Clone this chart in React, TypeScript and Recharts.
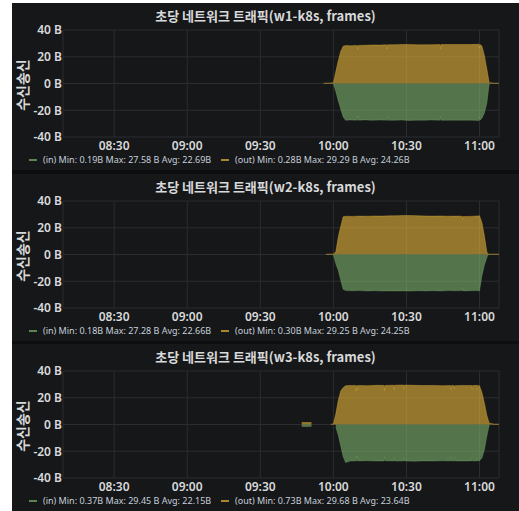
import React from 'react';
import { ComposedChart, Area, XAxis, YAxis, CartesianGrid } from 'recharts';

// axis setup
const yTicks = [-40, -20, 0, 20, 40];
const xTickLabels = ['08:30', '09:00', '09:30', '10:00', '10:30', '11:00'];
const xStart = '08:09';
const xEnd = '11:08';

// w1-k8s
const w1Time = ['09:56', '09:58', '10:00', '10:01', '10:02', '10:03', '10:04', '10:05', '10:07', '10:09:50', '10:10', '10:10:10', '10:13', '10:16', '10:19', '10:21:50', '10:22', '10:22:10', '10:25', '10:28', '10:31', '10:34', '10:37', '10:40', '10:43:50', '10:44', '10:44:10', '10:47', '10:50', '10:53', '10:56', '10:59:50', '11:00', '11:00:10', '11:01', '11:02', '11:03', '11:04', '11:06', '11:08'];
const w1Out = [0.3, 0.3, 0.5, 9, 17, 24, 27.8, 28.4, 28.2, 28.4, 25.5, 28.4, 28.6, 28.8, 28.7, 28.9, 25.8, 28.9, 29.0, 29.1, 29.2, 29.0, 28.9, 29.0, 29.1, 26.0, 29.1, 29.2, 29.1, 29.2, 29.1, 29.3, 26.5, 29.2, 28, 21, 11, 0.6, 0.3, 0.3];
const w1In = [null, null, -0.3, -6, -13, -19, -25, -27.5, -27.3, -27.4, -24.5, -27.4, -27.2, -27.5, -27.3, -27.4, -24.8, -27.4, -27.5, -27.3, -27.6, -27.4, -27.5, -27.3, -27.4, -24.6, -27.4, -27.5, -27.4, -27.5, -27.4, -27.6, -25, -27.5, -26, -22, -15, -0.3, null, null];

// w2-k8s
const w2Time = ['09:57', '09:59', '10:00', '10:01', '10:02', '10:03', '10:04', '10:05', '10:08', '10:11', '10:14', '10:17', '10:20', '10:23', '10:26', '10:29', '10:32', '10:35', '10:38', '10:41', '10:44', '10:47', '10:50', '10:52:50', '10:53', '10:53:10', '10:56', '10:59', '11:00', '11:01', '11:02', '11:03', '11:03:30', '11:05', '11:08'];
const w2Out = [0.3, 0.3, 0.4, 2, 13, 21, 28.2, 28.6, 28.5, 28.7, 28.6, 28.8, 28.7, 28.9, 29.0, 29.2, 29.1, 28.9, 28.8, 28.7, 28.8, 28.6, 28.7, 28.6, 26.2, 28.4, 28.5, 28.8, 29.0, 24, 14, 2, 0.4, 0.3, 0.3];
const w2In = [null, null, -0.3, -7, -12, -19, -26, -27, -27.1, -27.0, -27.2, -27.1, -27.3, -27.2, -27.3, -27.2, -27.3, -27.1, -27.2, -27.1, -27.2, -27.0, -27.1, -27.0, -25.0, -27.2, -27.1, -27.0, -27.2, -16, -8, -2.5, -0.3, null, null];

// w3-k8s
const w3Time = ['09:47', '09:51', '09:52', '09:59', '10:00', '10:01', '10:02', '10:03', '10:04', '10:05', '10:07', '10:09:10', '10:09:20', '10:09:30', '10:10', '10:10:10', '10:10:20', '10:14', '10:18', '10:20:50', '10:21', '10:21:10', '10:24:50', '10:25', '10:25:10', '10:28:50', '10:29', '10:29:10', '10:33', '10:37', '10:41', '10:45', '10:48:10', '10:48:20', '10:48:30', '10:49:30', '10:49:40', '10:49:50', '10:53', '10:56:50', '10:57', '10:57:10', '10:58:50', '10:59', '10:59:10', '11:00', '11:01', '11:02', '11:03', '11:04', '11:06', '11:08'];
const w3Out = [1.5, 1.5, null, 0.3, 0.4, 8, 18, 25, 27.5, 29, 29.2, 29.2, 25, 29.1, 29.2, 26, 29.2, 29.0, 29.3, 29.2, 25.5, 29.2, 29.4, 26, 29.4, 29.5, 26.5, 29.5, 29.3, 29.1, 29.2, 29.0, 29.1, 26, 29.1, 29.1, 26.5, 29.0, 29.2, 29.1, 26, 29.1, 29.3, 26, 29.2, 29.0, 24, 16, 7, 1, 0.3, 0.3];
const w3In = [-1.5, -1.5, null, null, null, -2, -8, -16, -24, -28.5, -27.3, -27.2, -23.5, -27.2, -27.3, -24, -27.2, -27.1, -27.3, -27.2, -24.2, -27.1, -27.3, -24.6, -27.3, -27.2, -25, -27.2, -27.4, -27.2, -27.3, -27.1, -27.2, -24.5, -27.2, -27.3, -24.8, -27.2, -27.3, -27.2, -24.5, -27.2, -27.3, -25, -27.2, -27.1, -25, -19, -9, -0.3, null, null];

const w1Legend = ['(in) Min: 0.19B Max: 27.58 B Avg: 22.69B', '(out) Min: 0.28B Max: 29.29 B Avg: 24.26B'];
const w2Legend = ['(in) Min: 0.18B Max: 27.28 B Avg: 22.66B', '(out) Min: 0.30B Max: 29.25 B Avg: 24.25B'];
const w3Legend = ['(in) Min: 0.37B Max: 29.45 B Avg: 22.15B', '(out) Min: 0.73B Max: 29.68 B Avg: 23.64B'];

const toMin = (t: string) => {
  const [h, m, s = '0'] = t.split(':');
  return +h * 60 + +m + +s / 60;
};
const fmt = (v: number) => {
  const h = Math.floor(v / 60);
  const m = Math.round(v % 60);
  return `${String(h).padStart(2, '0')}:${String(m).padStart(2, '0')}`;
};

const IN_COLOR = '#7EB26D';
const OUT_COLOR = '#EAB839';
const TEXT = '#d8d9da';
const FONT = '"Noto Sans", "Noto Sans CJK KR", sans-serif';

interface PanelProps {
  title: string;
  top: number;
  times: string[];
  outVals: (number | null)[];
  inVals: (number | null)[];
  legend: string[];
}

const Panel: React.FC<PanelProps> = ({ title, top, times, outVals, inVals, legend }) => {
  const data = times.map((t, i) => ({ t: toMin(t), out: outVals[i], in: inVals[i] }));
  return (
    <div style={{ position: 'absolute', left: 12, top, width: 507, height: 167, background: '#161719', fontFamily: FONT }}>
      <div style={{ position: 'absolute', top: 3, left: 0, width: 507, textAlign: 'center', color: TEXT, fontSize: 13, fontWeight: 700, fontFamily: '"Noto Sans CJK KR", sans-serif' }}>
        {title}
      </div>
      <div style={{ position: 'absolute', left: 10, top: 81, width: 0, height: 0 }}>
        <div style={{ transform: 'translate(-50%, -50%) rotate(-90deg)', color: TEXT, fontSize: 14, fontWeight: 700, whiteSpace: 'nowrap', fontFamily: '"Noto Sans CJK KR", sans-serif', display: 'inline-block' }}>
          수신송신
        </div>
      </div>
      <ComposedChart width={507} height={167} data={data} margin={{ top: 27, right: 20, bottom: 0, left: 0 }}>
        <CartesianGrid stroke="#2b2d31" strokeWidth={1} />
        <XAxis
          dataKey="t"
          type="number"
          domain={[toMin(xStart), toMin(xEnd)]}
          ticks={xTickLabels.map(toMin)}
          tickFormatter={fmt}
          allowDataOverflow
          axisLine={false}
          tickLine={false}
          tickSize={0}
          tickMargin={4}
          height={33}
          tick={{ fill: TEXT, fontSize: 12, fontWeight: 600 }}
        />
        <YAxis
          type="number"
          domain={[-40, 40]}
          ticks={yTicks}
          tickFormatter={(v: number) => `${v} B`}
          axisLine={false}
          tickLine={false}
          tickSize={0}
          tickMargin={1}
          width={51}
          tick={{ fill: TEXT, fontSize: 12, fontWeight: 600 }}
        />
        <Area type="linear" dataKey="out" stroke={OUT_COLOR} strokeOpacity={0.35} fill={OUT_COLOR} fillOpacity={0.6} strokeWidth={1} dot={false} activeDot={false} isAnimationActive={false} />
        <Area type="linear" dataKey="in" stroke={IN_COLOR} strokeOpacity={0.3} fill={IN_COLOR} fillOpacity={0.6} strokeWidth={1} dot={false} activeDot={false} isAnimationActive={false} />
      </ComposedChart>
      <div style={{ position: 'absolute', top: 150, left: 17, fontSize: 9, color: '#c7d0d9', whiteSpace: 'nowrap', display: 'flex' }}>
        <span style={{ display: 'flex', alignItems: 'center', width: 192 }}>
          <span style={{ width: 8, height: 2, background: IN_COLOR, opacity: 0.7, marginRight: 6 }} />
          {legend[0]}
        </span>
        <span style={{ display: 'flex', alignItems: 'center' }}>
          <span style={{ width: 8, height: 2, background: OUT_COLOR, opacity: 0.7, marginRight: 6 }} />
          {legend[1]}
        </span>
      </div>
    </div>
  );
};

export default function App() {
  return (
    <div style={{ position: 'absolute', left: 0, top: 0, width: 519, height: 511, background: '#ffffff' }}>
      <div style={{ position: 'absolute', left: 12, top: 3, width: 507, height: 508, background: '#0d0e10' }} />
      <Panel title="초당 네트워크 트래픽(w1-k8s, frames)" top={3} times={w1Time} outVals={w1Out} inVals={w1In} legend={w1Legend} />
      <Panel title="초당 네트워크 트래픽(w2-k8s, frames)" top={174} times={w2Time} outVals={w2Out} inVals={w2In} legend={w2Legend} />
      <Panel title="초당 네트워크 트래픽(w3-k8s, frames)" top={344} times={w3Time} outVals={w3Out} inVals={w3In} legend={w3Legend} />
    </div>
  );
}
